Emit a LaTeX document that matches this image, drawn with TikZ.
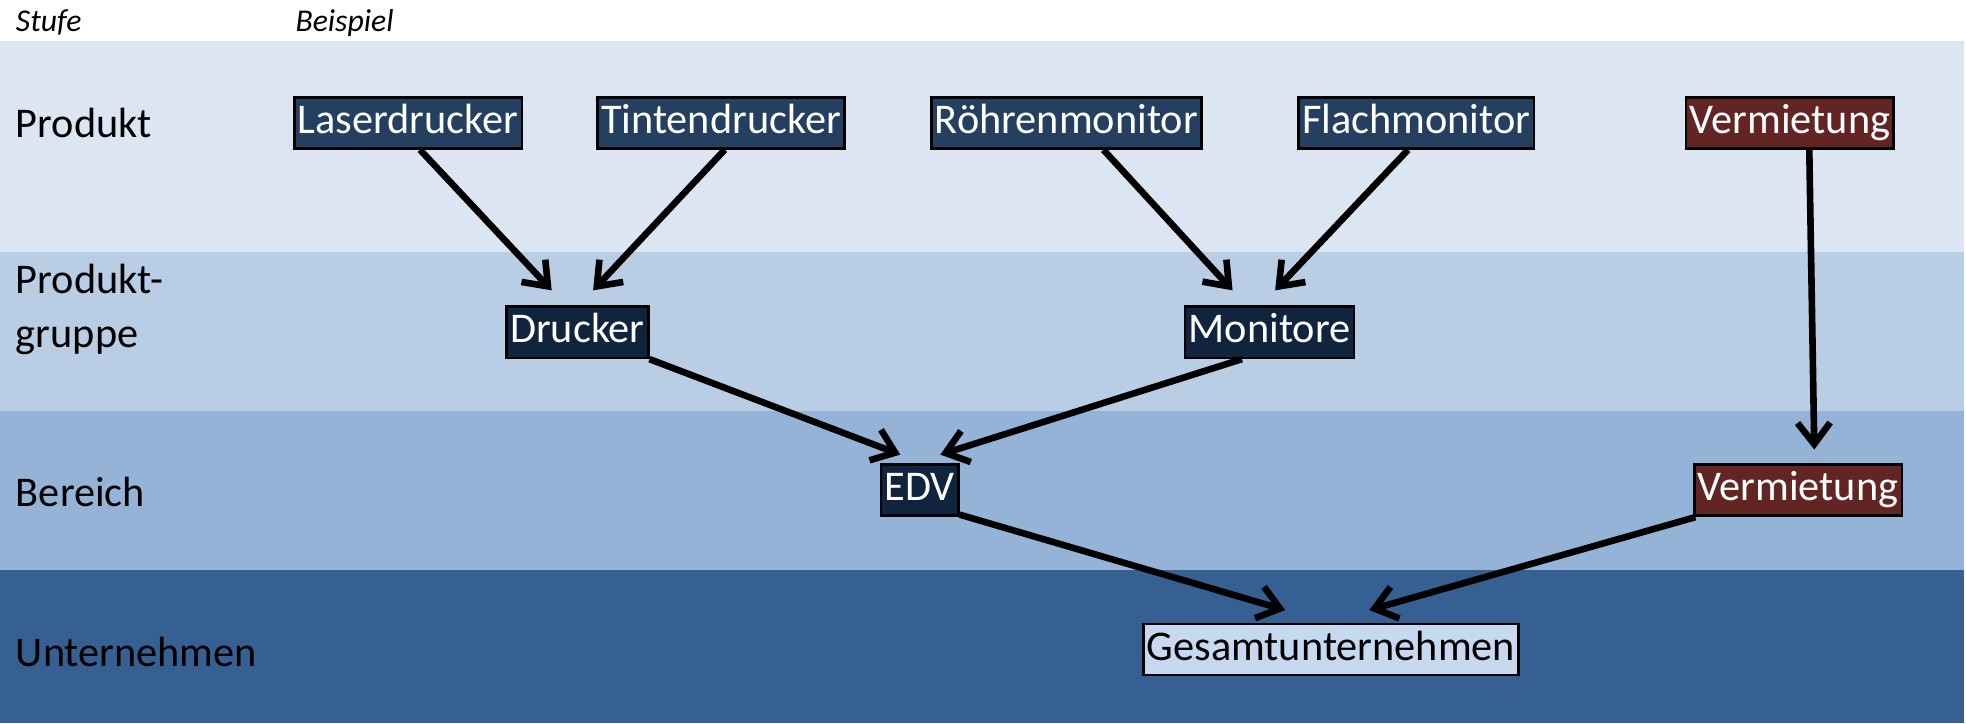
\documentclass[tikz,border=0pt]{standalone}
\usepackage{tikz}
\usetikzlibrary{arrows.meta}
\usepackage{fontspec,xcolor}
\setmainfont{Carlito}
\definecolor{stufeEins}{HTML}{DCE6F2}
\definecolor{stufeZwei}{HTML}{B9CDE5}
\definecolor{stufeDrei}{HTML}{95B3D7}
\definecolor{stufeVier}{HTML}{366092}
\definecolor{boxBlau}{HTML}{243F60}
\definecolor{boxDunkel}{HTML}{10243E}
\definecolor{boxRot}{HTML}{632523}
\definecolor{boxHell}{HTML}{C6D9F1}
\tikzset{
  element/.style={draw=black, line width=0.6pt, inner xsep=0.8pt, inner ysep=1pt,
    text height=7.2pt, text depth=2.4pt, text=white,
    font=\fontsize{9.6}{11}\selectfont},
  produkt/.style={element, fill=boxBlau},
  gruppe/.style={element, fill=boxDunkel},
  extern/.style={element, fill=boxRot},
  gesamt/.style={element, fill=boxHell, text=black},
  ebene/.style={anchor=west, inner sep=0pt, align=left,
    font=\fontsize{9.6}{12.2}\selectfont},
  kopf/.style={anchor=west, inner sep=0pt, font=\fontsize{7.2}{8}\selectfont\itshape},
  pfeil/.style={line width=1.5pt, -{Straight Barb[length=1.7mm,width=2.6mm]}}
}

\begin{document}
\begin{tikzpicture}
\useasboundingbox (0,0) rectangle (15.68,5.77);
\fill[stufeEins] (0,3.76) rectangle (15.66,5.44);
\fill[stufeZwei] (0,2.49) rectangle (15.66,3.76);
\fill[stufeDrei] (0,1.22) rectangle (15.66,2.49);
\fill[stufeVier] (0,0) rectangle (15.66,1.22);

\node[kopf] (Stufe) at (0.12,5.59) {Stufe};
\node[kopf] (Beispiel) at (2.35,5.59) {Beispiel};

\node[ebene] (Produkt) at (0.12,4.79) {Produkt};
\node[ebene] (Produktgruppe) at (0.12,3.30) {Produkt-\\gruppe};
\node[ebene] (Bereich) at (0.12,1.85) {Bereich};
\node[ebene] (Unternehmen) at (0.12,0.57) {Unternehmen};

\node[produkt] (Laserdrucker) at (3.255,4.79) {Laserdrucker};
\node[produkt] (Tintendrucker) at (5.75,4.79) {Tintendrucker};
\node[produkt] (Roehrenmonitor) at (8.505,4.79) {Röhrenmonitor};
\node[produkt] (Flachmonitor) at (11.295,4.79) {Flachmonitor};
\node[extern] (VermietungP) at (14.275,4.79) {Vermietung};

\node[gruppe] (Drucker) at (4.605,3.12) {Drucker};
\node[gruppe] (Monitore) at (10.125,3.12) {Monitore};

\node[gruppe] (EDV) at (7.335,1.86) {EDV};
\node[extern] (VermietungB) at (14.34,1.86) {Vermietung};

\node[gesamt] (Gesamt) at (10.615,0.59) {Gesamtunternehmen};

\draw[pfeil] ([xshift=0.95mm]Laserdrucker.south) -- ([xshift=-2.05mm,yshift=1.2mm]Drucker.north);
\draw[pfeil] ([xshift=0.3mm]Tintendrucker.south) -- ([xshift=1.25mm,yshift=1.2mm]Drucker.north);
\draw[pfeil] ([xshift=2.95mm]Roehrenmonitor.south) -- ([xshift=-2.95mm,yshift=1.2mm]Monitore.north);
\draw[pfeil] ([xshift=-0.65mm]Flachmonitor.south) -- ([xshift=0.45mm,yshift=1.2mm]Monitore.north);
\draw[pfeil] ([xshift=1.55mm]VermietungP.south) -- ([xshift=1.3mm,yshift=1.1mm]VermietungB.north);
\draw[pfeil] (Drucker.south east) -- ([xshift=-1.55mm,yshift=0.7mm]EDV.north);
\draw[pfeil] ([xshift=-2.2mm]Monitore.south) -- ([xshift=1.65mm,yshift=0.7mm]EDV.north);
\draw[pfeil] ([yshift=0.2mm]EDV.south east) -- ([xshift=-3.65mm,yshift=1mm]Gesamt.north);
\draw[pfeil] ([xshift=0.2mm]VermietungB.south west) -- ([xshift=3.05mm,yshift=1mm]Gesamt.north);
\end{tikzpicture}
\end{document}
